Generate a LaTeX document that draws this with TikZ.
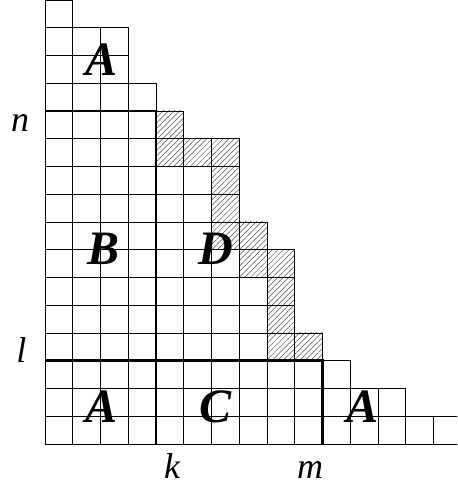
\documentclass[tikz,border=0pt]{standalone}
\usepackage{fontspec}
\setmainfont{Liberation Serif}
\usetikzlibrary{patterns.meta}
\begin{document}
\begin{tikzpicture}[x=27.75pt,y=27.75pt,
  thinline/.style={line width=0.9pt},
  thickline/.style={line width=2.6pt},
  hatch/.style={pattern={Lines[angle=45,distance=3.9pt,line width=0.5pt]}, pattern color=black!70},
  biglabel/.style={font=\fontsize{48}{48}\selectfont\bfseries\itshape, inner sep=0pt},
  smalllabel/.style={font=\fontsize{36}{36}\selectfont\itshape, inner sep=0pt}]
\clip (-45pt,-45pt) rectangle (412pt,444pt);
% hatched rim
\foreach \c/\r in {8/3,9/3,8/4,8/5,7/6,8/6,6/7,7/7,6/8,6/9,4/10,5/10,6/10,4/11}
  \fill[hatch] (\c,\r) rectangle ++(1,1);
% cells
\foreach \len [count=\r from 0] in {15,13,11,10,9,9,9,8,7,7,7,5,4,3,3,1}
  \foreach \c in {1,...,\len}
    \draw[thinline] ({\c-1},\r) rectangle (\c,{\r+1});
% thick lines
\draw[thickline] (0,12) -- (4,12) -- (4,0);
\draw[thickline] (0,3) -- (10,3) -- (10,0);
% labels
\node[biglabel] (Atop) at (2.05,13.85) {A};
\node[biglabel] (B) at (2.1,7.05) {B};
\node[biglabel] (D) at (6.15,7.05) {D};
\node[biglabel] (Aleft) at (2.05,1.35) {A};
\node[biglabel] (C) at (6.15,1.35) {C};
\node[biglabel] (Aright) at (11.45,1.35) {A};
\node[smalllabel] (n) at (-0.9,11.57) {n};
\node[smalllabel] (l) at (-0.85,3.4) {l};
\node[smalllabel] (k) at (4.58,-0.8) {k};
\node[smalllabel] (m) at (9.55,-0.94) {m};
\end{tikzpicture}
\end{document}
